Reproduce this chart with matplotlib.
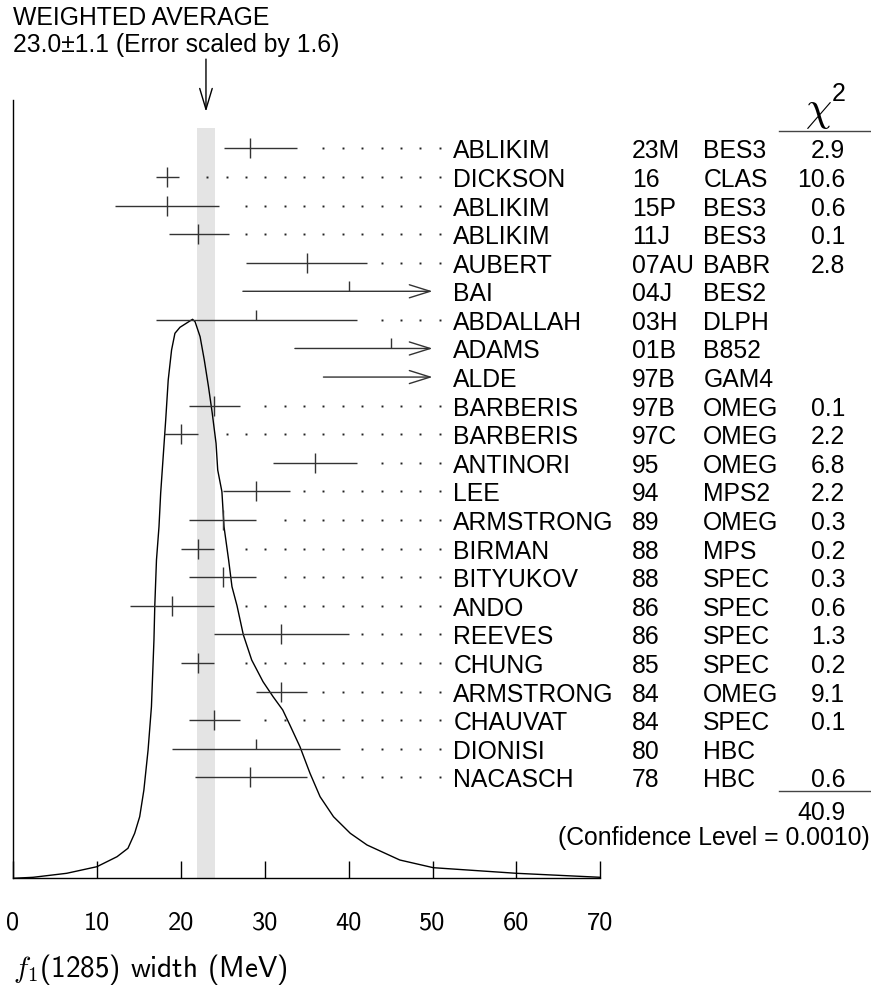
import matplotlib
matplotlib.use("Agg")
import matplotlib.pyplot as plt
import matplotlib.transforms as mtransforms
from matplotlib.lines import Line2D
import numpy as np

plt.rcParams['mathtext.fontset'] = 'cm'
plt.rcParams['font.family'] = ['Liberation Sans', 'DejaVu Sans']

# measurements, top to bottom
names = ["ABLIKIM", "DICKSON", "ABLIKIM", "ABLIKIM", "AUBERT", "BAI", "ABDALLAH", "ADAMS",
         "ALDE", "BARBERIS", "BARBERIS", "ANTINORI", "LEE", "ARMSTRONG", "BIRMAN",
         "BITYUKOV", "ANDO", "REEVES", "CHUNG", "ARMSTRONG", "CHAUVAT", "DIONISI", "NACASCH"]
years = ["23M", "16", "15P", "11J", "07AU", "04J", "03H", "01B", "97B", "97B", "97C", "95",
         "94", "89", "88", "88", "86", "86", "85", "84", "84", "80", "78"]
experiments = ["BES3", "CLAS", "BES3", "BES3", "BABR", "BES2", "DLPH", "B852", "GAM4", "OMEG",
               "OMEG", "OMEG", "MPS2", "OMEG", "MPS", "SPEC", "SPEC", "SPEC", "SPEC", "OMEG",
               "SPEC", "HBC", "HBC"]
values = [28.2, 18.4, 18.3, 22.1, 35.0, 40.0, 29.0, 45.0, 55.0, 24.0, 20.0, 36.0, 29.0,
          25.0, 22.0, 25.0, 19.0, 32.0, 22.0, 32.0, 24.0, 29.0, 28.3]
err_lo = [3.1, 1.4, 6.2, 3.5, 7.2, 12.6, 12.0, 11.4, 18.0, 3.0, 2.0, 5.0, 4.0, 4.0, 2.0,
          4.0, 5.0, 8.0, 2.0, 3.0, 3.0, 10.0, 6.6]
err_hi = [5.6, 1.4, 6.3, 3.6, 7.2, 12.6, 12.0, 11.4, 18.0, 3.0, 2.0, 5.0, 4.0, 4.0, 2.0,
          4.0, 5.0, 8.0, 2.0, 3.0, 3.0, 10.0, 6.7]
chi2 = ["2.9", "10.6", "0.6", "0.1", "2.8", "", "", "", "", "0.1", "2.2", "6.8", "2.2",
        "0.3", "0.2", "0.3", "0.6", "1.3", "0.2", "9.1", "0.1", "", "0.6"]
chi2_total = "40.9"
conf_level = "0.0010"
avg, avg_err, scale = 23.0, 1.1, 1.6

# ideogram curve (arbitrary height units, peak ~559)
curve_x = [0.0, 2.4, 6.4, 10.0, 12.4, 13.7, 14.5, 15.1, 15.6, 16.1, 16.5, 16.8, 16.9,
           17.1, 17.4, 17.6, 17.9, 18.2, 18.5, 18.9, 19.3, 19.9, 21.4, 21.7, 22.3, 22.8,
           23.3, 23.75, 24.2, 24.4, 24.9, 25.15, 25.7, 26.1, 26.7, 27.45, 28.45, 29.8,
           31.0, 32.15, 33.0, 34.2, 35.4, 36.6, 38.2, 40.2, 42.2, 46.1, 50.1, 60.0, 70.0]
curve_h = [0, 1, 5, 11.6, 21.6, 30, 45, 61.6, 88.3, 128.3, 171.6, 238.3, 272.6, 318.3,
           351.6, 385, 421.6, 458.3, 498.3, 528.3, 545, 551, 559, 556.6, 541.6, 518.3,
           491.6, 465, 435, 408.3, 386.6, 351.6, 318.3, 291.6, 272.6, 243.6, 218.3,
           196.6, 181.6, 168.3, 153.3, 131.6, 105, 81.6, 61.6, 45, 33.3, 18.3, 10.6, 5, 1]

W, H = 871.0, 993.0
fig = plt.figure(figsize=(W / 100, H / 100), dpi=100)
ax = fig.add_axes([13 / W, 1 - 878.3 / H, 587.3 / W, 778.3 / H])
n = len(names)
ax.set_xlim(0, 70)
ax.set_ylim(25.53, -1.69)

bar_col = '#333333'
clip_x = 50.0  # where the labels begin

# shaded band of the weighted average
ax.fill_between([avg - avg_err, avg + avg_err], -0.72, 25.53, color='#e4e4e4', lw=0, zorder=0)

# ideogram
curve_frac = np.array(curve_h) / 778.3
ax.plot(curve_x, curve_frac, color='black', lw=1.0, zorder=2,
        transform=mtransforms.blended_transform_factory(ax.transData, ax.transAxes))

dot_x, dot_y = [], []
for i in range(n):
    lo = values[i] - err_lo[i]
    hi = values[i] + err_hi[i]
    used = chi2[i] != ""
    if hi > clip_x:
        ax.annotate('', xy=(clip_x, i), xytext=(lo, i),
                    arrowprops=dict(arrowstyle='->,head_length=1.5,head_width=0.47',
                                    lw=1.0, color=bar_col, shrinkA=0, shrinkB=0,
                                    mutation_scale=10))
    else:
        ax.hlines(i, lo, hi, color=bar_col, lw=1.0, zorder=3)
        k = 0
        while True:
            xd = 50.86 - 2.31 * k
            if xd <= hi + 1.5:
                break
            dot_x.append(xd)
            dot_y.append(i)
            k += 1
    if values[i] < clip_x:
        ax.vlines(values[i], i - 0.35, i + 0.35 if used else i, color=bar_col, lw=1.0, zorder=3)

ax.plot(dot_x, dot_y, ls='none', marker='s', ms=1.4, mew=0, color='#222222', zorder=3)

# arrow pointing at the weighted average
ax.annotate('', xy=(avg, -1.28), xytext=(avg, -3.12), annotation_clip=False,
            arrowprops=dict(arrowstyle='->,head_length=1.5,head_width=0.45',
                            lw=1.0, color='black', shrinkA=0, shrinkB=0, mutation_scale=10))

ax.spines[['top', 'right']].set_visible(False)
ax.spines[['left', 'bottom']].set_linewidth(1.0)
ax.set_yticks([])
ax.set_xticks(range(0, 71, 10))
ax.tick_params(axis='x', direction='in', length=12, width=1.0, pad=24)
for t in ax.get_xticklabels():
    t.set_fontfamily('cmss10')
    t.set_fontsize(19)

# text columns
tr = mtransforms.blended_transform_factory(fig.transFigure, ax.transData)
fs = 17.8
for i in range(n):
    yb = i + 0.35
    fig.text(453.3 / W, yb, names[i], transform=tr, fontsize=fs, va='baseline')
    fig.text(631.7 / W, yb, years[i], transform=tr, fontsize=fs, va='baseline')
    fig.text(703.3 / W, yb, experiments[i], transform=tr, fontsize=fs, va='baseline')
    if chi2[i]:
        fig.text(845 / W, yb, chi2[i], transform=tr, fontsize=fs, va='baseline', ha='right')

fig.text(832 / W, 1 - 131 / H, r'$\chi$', ha='right', va='bottom', fontsize=30)
fig.text(846 / W, 1 - 101 / H, "2", ha='right', va='baseline', fontsize=18)
fig.add_artist(Line2D([779 / W, 1.0], [1 - 131 / H] * 2, color='#444444', lw=1.0))
fig.add_artist(Line2D([779 / W, 1.0], [1 - 791 / H] * 2, color='#444444', lw=1.0))
fig.text(845 / W, 1 - 820 / H, chi2_total, ha='right', va='baseline', fontsize=fs)
fig.text(870 / W, 1 - 845 / H, "(Confidence Level = %s)" % conf_level, ha='right',
         va='baseline', fontsize=fs)

fig.text(13.3 / W, 1 - 25 / H, "WEIGHTED AVERAGE", fontsize=fs, va='baseline')
fig.text(13.3 / W, 1 - 51.7 / H, "%.1f\u00b1%.1f (Error scaled by %.1f)" % (avg, avg_err, scale),
         fontsize=fs, va='baseline')

fig.text(13 / W, 1 - 977 / H, r'$f_1$(1285) width (MeV)', fontfamily='cmss10', fontsize=21,
         va='baseline')

fig.savefig('out.png', dpi=100)
